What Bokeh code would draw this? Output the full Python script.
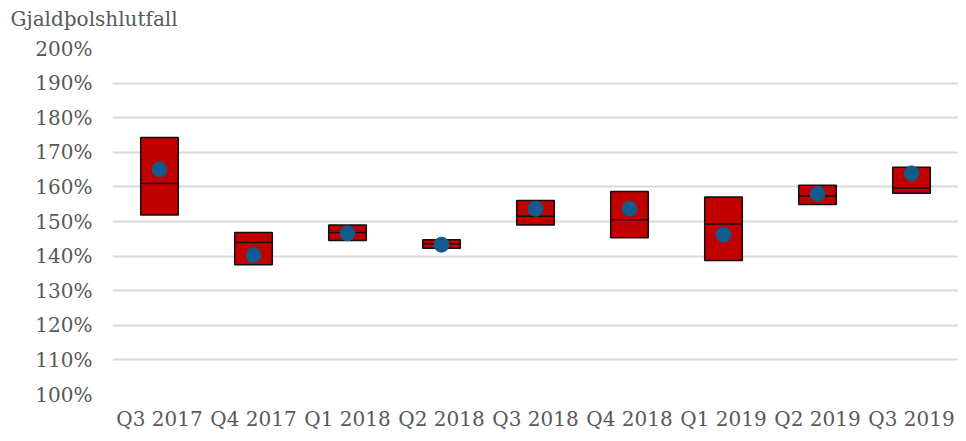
from bokeh.plotting import figure
from bokeh.models import ColumnDataSource, FixedTicker, PrintfTickFormatter, Range1d, Title
from bokeh.transform import dodge
from bokeh.embed import file_html
from bokeh.resources import INLINE

categories = ["Q3 2017", "Q4 2017", "Q1 2018", "Q2 2018", "Q3 2018",
              "Q4 2018", "Q1 2019", "Q2 2019", "Q3 2019"]
box_top = [174.3, 146.8, 149.0, 144.7, 156.1, 158.7, 157.1, 160.5, 165.7]
box_bottom = [151.9, 137.5, 144.5, 142.3, 149.0, 145.3, 138.7, 154.9, 158.2]
median = [161.0, 143.9, 146.8, 143.6, 151.5, 150.5, 149.3, 157.4, 159.7]
point = [165.1, 140.3, 146.6, 143.3, 153.7, 153.7, 146.2, 158.0, 163.9]
y_ticks = [100, 110, 120, 130, 140, 150, 160, 170, 180, 190, 200]
y_title = "Gjaldþolshlutfall"

FONT = "DejaVu Serif"
TXT = "#595959"

src = ColumnDataSource(dict(cat=categories, top=box_top, bottom=box_bottom,
                            med=median, pt=point))

p = figure(x_range=categories, y_range=Range1d(100, 200), width=958, height=433,
           output_backend="svg", toolbar_location=None,
           min_border_left=112, min_border_right=0, min_border_top=48, min_border_bottom=39)
p.outline_line_color = None
p.background_fill_color = "white"
p.border_fill_color = "white"

p.vbar(x="cat", top="top", bottom="bottom", width=0.4, source=src,
       fill_color="#C00000", line_color="#111111", line_width=1.5)
p.segment(x0=dodge("cat", -0.2, range=p.x_range), x1=dodge("cat", 0.2, range=p.x_range),
          y0="med", y1="med", source=src, line_color="#111111", line_width=1.5)
p.scatter(x="cat", y="pt", source=src, size=15, fill_color="#135B8C", line_color="#135B8C")

p.xgrid.grid_line_color = None
p.ygrid.grid_line_color = "#D9D9D9"
p.ygrid.grid_line_width = 2
p.yaxis.ticker = FixedTicker(ticks=y_ticks)
p.yaxis.formatter = PrintfTickFormatter(format="%d%%")

for ax in (p.xaxis[0], p.yaxis[0]):
    ax.axis_line_color = None
    ax.major_tick_line_color = None
    ax.minor_tick_line_color = None
    ax.major_tick_out = 0
    ax.major_tick_in = 0
    ax.major_label_text_font = FONT
    ax.major_label_text_font_size = "20px"
    ax.major_label_text_color = TXT
p.yaxis.major_label_standoff = 20
p.xaxis.major_label_standoff = 12

spacer = Title(text=" ", text_font_size="1px", standoff=15)
p.add_layout(spacer, "above")
head = Title(text=y_title, align="left", offset=-102, standoff=0,
             text_font=FONT, text_font_size="20px", text_font_style="normal",
             text_color=TXT)
p.add_layout(head, "above")

open("out.html", "w").write(file_html(p, INLINE))
